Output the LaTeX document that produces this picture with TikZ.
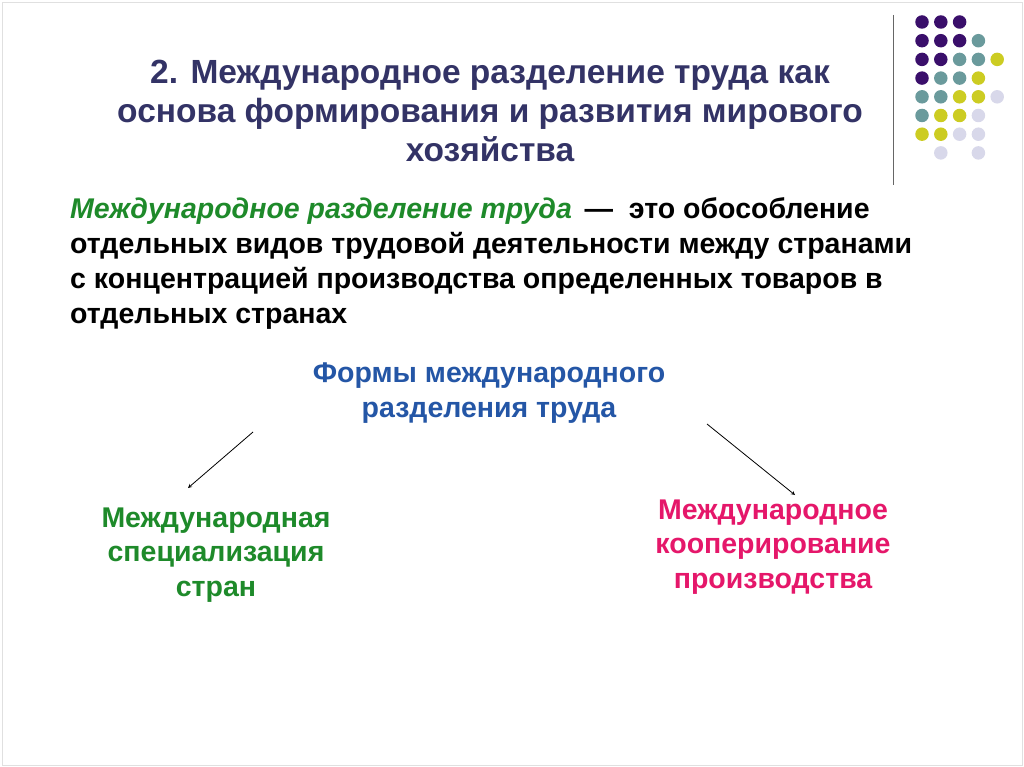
\documentclass[tikz,border=0pt]{standalone}
\usepackage{fontspec}
\setmainfont{Liberation Sans}
\begin{document}
\begin{tikzpicture}[x=1pt,y=-1pt,
  dot/.style={circle,inner sep=0pt,minimum size=13.5pt},
  ttl/.style={font=\fontsize{33.5}{39}\selectfont\bfseries,text=titlec,align=center},
  bod/.style={font=\fontsize{28.5}{35}\selectfont\bfseries,align=left,anchor=north west,inner sep=0pt},
  lbl/.style={font=\fontsize{28.5}{34.5}\selectfont\bfseries,align=center},
  arr/.style={-stealth,thick}]
\definecolor{titlec}{HTML}{333366}
\definecolor{pu}{HTML}{3A0F6B}
\definecolor{te}{HTML}{6A9A9C}
\definecolor{ye}{HTML}{CCCC22}
\definecolor{li}{HTML}{D8D8EA}
\definecolor{gr}{HTML}{1E8A2A}
\definecolor{bl}{HTML}{2456A6}
\definecolor{pk}{HTML}{E5176A}
\fill[white] (0,0) rectangle (1024,767);
\useasboundingbox (0,0) rectangle (1024,767);
\draw[black!12] (2,2) rectangle (1022,765);
\draw[gray!80!black,line width=1pt] (893,15) -- (893,185);
\foreach \r/\row in {0/{pu,pu,pu},1/{pu,pu,pu,te},2/{pu,pu,te,te,ye},3/{pu,te,te,ye},4/{te,te,ye,ye,li},5/{te,ye,ye,li},6/{ye,ye,li,li},7/{none,li,none,li}}{
  \foreach \c [count=\i from 0] in \row {
    \node[dot,fill=\c] (d\r\i) at (922+18.8*\i,22+18.7*\r) {};
  }
}
\node[ttl] (title) at (490,111) {2. Международное разделение труда как\\основа формирования и развития мирового\\хозяйства};
\node[bod] (def) at (70,197) {\textcolor{gr}{\itshape Международное разделение труда}\, — \ это обособление\\отдельных видов трудовой деятельности между странами\\с концентрацией производства определенных товаров в\\отдельных странах};
\node[lbl,text=bl] (forms) at (489,393) {Формы международного\\разделения труда};
\node[lbl,text=gr] (spec) at (216,555) {Международная\\специализация\\стран};
\node[lbl,text=pk] (coop) at (773,547) {Международное\\кооперирование\\производства};
\coordinate (a1) at (253,432);
\coordinate (a2) at (707,424);
\coordinate (e1) at (188,488);
\coordinate (e2) at (795,495);
\draw[arr] (a1) -- (e1);
\draw[arr] (a2) -- (e2);
\end{tikzpicture}
\end{document}
